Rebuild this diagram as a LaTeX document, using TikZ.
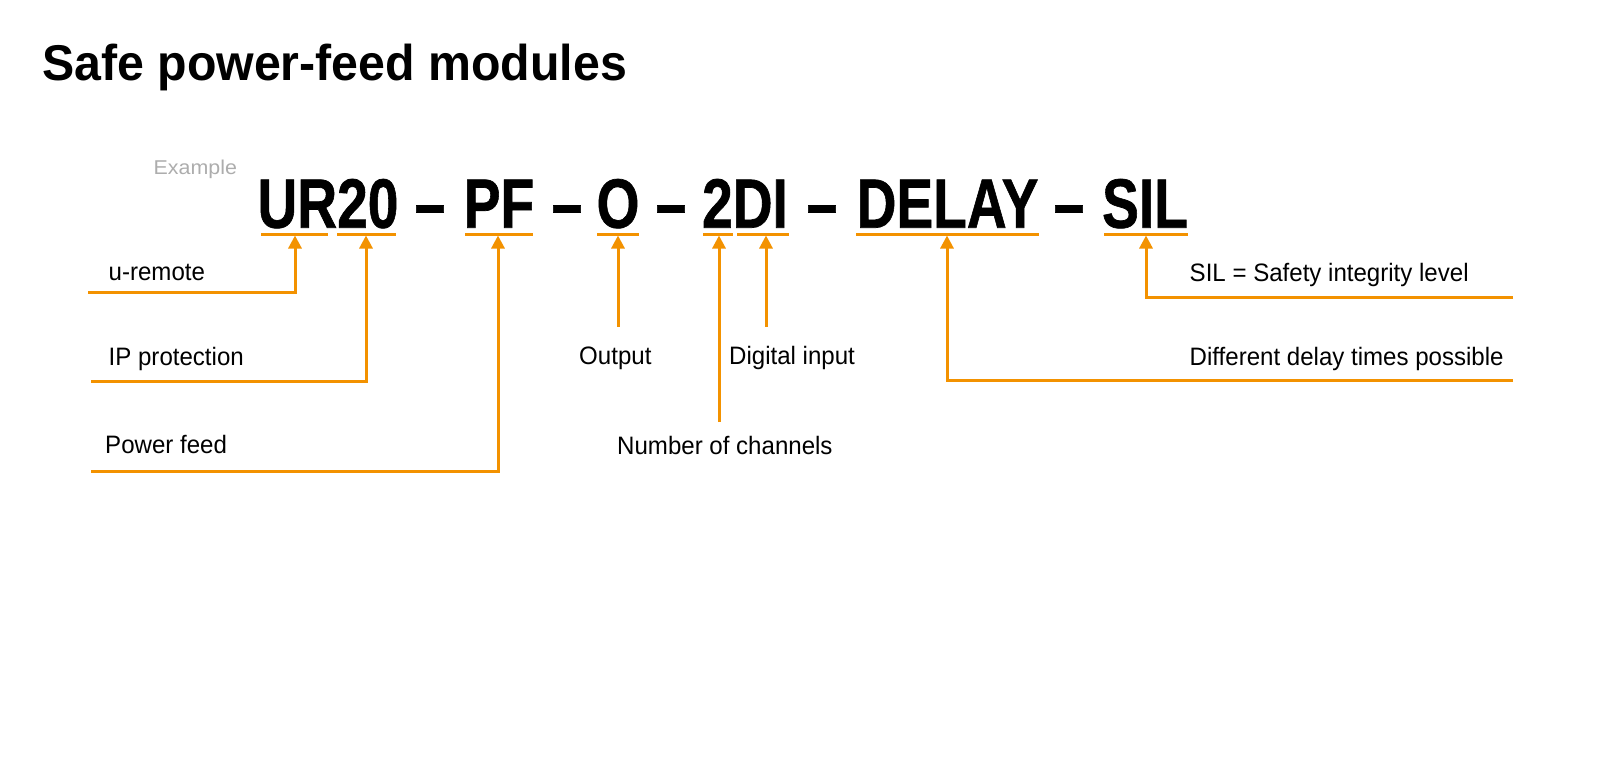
\documentclass[tikz,border=0pt]{standalone}
\usepackage{fontspec}
\usepackage{graphicx}
\setmainfont{Liberation Sans}
\newfontfamily\bigfam{Liberation Sans}[BoldFeatures={FakeBold=1}]
\usetikzlibrary{arrows.meta}
\definecolor{accent}{HTML}{F39200}
\definecolor{exgray}{HTML}{ADADAD}
\newcommand{\lblfont}{\fontsize{25.2}{30}\selectfont}
\newcommand{\bigfnt}{\bigfam\fontsize{69.8}{72}\selectfont\bfseries}
\begin{document}
\begin{tikzpicture}[x=1pt,y=-1pt,
  lbl/.style={anchor=base west, inner sep=0pt, font=\lblfont},
  bigtok/.style={anchor=base, inner sep=0pt, font=\bigfnt},
  uline/.style={draw=accent, line width=3pt},
  conn/.style={draw=accent, line width=3pt, -{Triangle[width=13pt,length=13pt]}}]
\useasboundingbox (0,0) rectangle (1600,765);
% title
\node[anchor=base west, inner sep=0pt, font=\fontsize{50.3}{56}\selectfont\bfseries] (title) at (42,81) {\scalebox{0.96}[1]{Safe power-feed modules}};
\node[anchor=base west, inner sep=0pt, text=exgray, font=\fontsize{20}{24}\selectfont] (example) at (153.5,174.3) {\scalebox{1.07}[1]{Example}};
% code tokens
\node[bigtok] (tUR) at (328,227.7) {\scalebox{0.79}[1]{UR20}};
\node[bigtok] (d1) at (430,227.7) {\scalebox{0.79}[1]{–}};
\node[bigtok] (tPF) at (499,227.7) {\scalebox{0.79}[1]{PF}};
\node[bigtok] (d2) at (567,227.7) {\scalebox{0.79}[1]{–}};
\node[bigtok] (tO) at (618,227.7) {\scalebox{0.79}[1]{O}};
\node[bigtok] (d3) at (671,227.7) {\scalebox{0.79}[1]{–}};
\node[bigtok] (tDI) at (745,227.7) {\scalebox{0.79}[1]{2DI}};
\node[bigtok] (d4) at (822,227.7) {\scalebox{0.79}[1]{–}};
\node[bigtok] (tDL) at (947.5,227.7) {\scalebox{0.79}[1]{DELAY}};
\node[bigtok] (d5) at (1069,227.7) {\scalebox{0.79}[1]{–}};
\node[bigtok] (tSIL) at (1145,227.7) {\scalebox{0.79}[1]{SIL}};
% underlines
\coordinate (uUa) at (261,234); \coordinate (uUb) at (328,234);
\coordinate (u2a) at (337,234); \coordinate (u2b) at (396,234);
\coordinate (uPa) at (465,234); \coordinate (uPb) at (533,234);
\coordinate (uOa) at (597,234); \coordinate (uOb) at (639,234);
\coordinate (uNa) at (703,234); \coordinate (uNb) at (733,234);
\coordinate (uDa) at (737,234); \coordinate (uDb) at (789,234);
\coordinate (uLa) at (856,234); \coordinate (uLb) at (1039,234);
\coordinate (uSa) at (1104,234); \coordinate (uSb) at (1188,234);
\draw[uline] (uUa) -- (uUb);
\draw[uline] (u2a) -- (u2b);
\draw[uline] (uPa) -- (uPb);
\draw[uline] (uOa) -- (uOb);
\draw[uline] (uNa) -- (uNb);
\draw[uline] (uDa) -- (uDb);
\draw[uline] (uLa) -- (uLb);
\draw[uline] (uSa) -- (uSb);
% arrow targets
\coordinate (aUR) at (295,235.5);
\coordinate (a20) at (366,235.5);
\coordinate (aPF) at (498,235.5);
\coordinate (aO) at (618,235.5);
\coordinate (aN) at (719,235.5);
\coordinate (aDI) at (766,235.5);
\coordinate (aDL) at (947,235.5);
\coordinate (aSIL) at (1146,235.5);
% free ends
\coordinate (sUR) at (88,292.3);
\coordinate (s20) at (91,381.7);
\coordinate (sPF) at (91,471);
\coordinate (sO) at (618,326.7);
\coordinate (sN) at (719,422);
\coordinate (sDI) at (766,326.7);
\coordinate (sDL) at (1513,380.7);
\coordinate (sSIL) at (1513,297.7);
% connectors
\draw[conn] (sUR) -| (aUR);
\draw[conn] (s20) -| (a20);
\draw[conn] (sPF) -| (aPF);
\draw[conn] (sO) -- (aO);
\draw[conn] (sN) -- (aN);
\draw[conn] (sDI) -- (aDI);
\draw[conn] (sDL) -| (aDL);
\draw[conn] (sSIL) -| (aSIL);
% labels
\node[lbl] (lUR) at (108.5,280) {\scalebox{0.955}[1]{u-remote}};
\node[lbl] (l20) at (108.5,365) {\scalebox{0.955}[1]{IP protection}};
\node[lbl] (lPF) at (105,453.3) {\scalebox{0.955}[1]{Power feed}};
\node[lbl] (lO) at (579,364) {\scalebox{0.955}[1]{Output}};
\node[lbl] (lDI) at (729,364) {\scalebox{0.955}[1]{Digital input}};
\node[lbl] (lN) at (617,454) {\scalebox{0.955}[1]{Number of channels}};
\node[lbl] (lSIL) at (1189.5,281) {\scalebox{0.955}[1]{SIL = Safety integrity level}};
\node[lbl] (lDL) at (1189.5,365) {\scalebox{0.955}[1]{Different delay times possible}};
\end{tikzpicture}
\end{document}
